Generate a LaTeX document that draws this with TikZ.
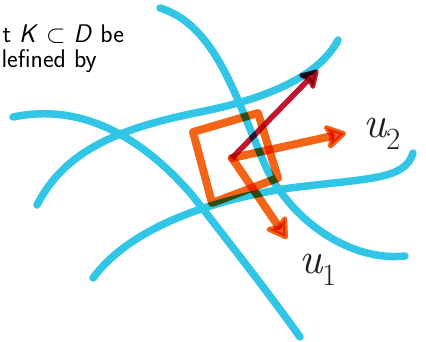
\documentclass[tikz,border=0pt]{standalone}
\usetikzlibrary{arrows.meta}
\definecolor{hlcyan}{RGB}{50,198,230}
\definecolor{hlorange}{RGB}{244,100,22}
\definecolor{hlred}{RGB}{192,22,46}
\definecolor{pen}{RGB}{30,30,30}
\begin{document}
\begin{tikzpicture}[x=1pt, y=-1pt,
    curve/.style={hlcyan, line width=7.5pt, line cap=round},
    marker/.style={hlorange, line width=8pt, line cap=round, line join=round},
    vec/.style={line width=8pt, -{Stealth[length=25pt, width=30pt, inset=6pt, round]}},
    hand/.style={pen, font=\fontsize{44}{44}\selectfont\itshape}]
    \useasboundingbox (0,0) rectangle (426,342);
    \fill[white] (0,0) rectangle (426,342);

    % text of the page, cut at the left
    \node[anchor=base west, font=\sffamily\fontsize{25.5}{28}\selectfont] (lineone) at (-1,43) {t \textsl{K} $\subset$ \textsl{D} be};
    \node[anchor=base west, font=\sffamily\fontsize{25.5}{28}\selectfont] (linetwo) at (-2,68) {lefined by};

    % the coordinate curves
    \draw[curve] (160,8) .. controls (215,25) and (235,95) .. (265,165)
        .. controls (290,220) and (350,262) .. (405,256);
    \draw[curve] (13,117) .. controls (80,103) and (140,135) .. (192,195)
        .. controls (235,250) and (270,295) .. (300,337);
    \draw[curve] (37,205) .. controls (65,150) and (120,128) .. (200,112)
        .. controls (270,98) and (320,75) .. (338,40);
    \draw[curve] (93,278) .. controls (130,228) and (210,200) .. (290,188)
        .. controls (370,178) and (405,180) .. (413,153);

    % the patch and its vectors
    \coordinate (o) at (232,158);
    \coordinate (vred) at (318,70);
    \coordinate (vtwo) at (346,133);
    \coordinate (vone) at (287,239);
    \begin{scope}[blend mode=multiply]
        \draw[marker] (193,132) -- (258,113) -- (278,178) -- (212,203) -- cycle;
        \draw[marker, vec] (o) -- (vtwo);
        \draw[marker, vec] (o) -- (vone);
        \draw[hlred, line width=5.5pt, -{Stealth[length=21pt, width=25pt, inset=4pt, round]}] (o) -- (vred);
    \end{scope}

    \node[hand] (utwo) at (382,134) {u\textsubscript{\upshape 2}};
    \node[hand] (uone) at (318,270) {u\textsubscript{\upshape 1}};
\end{tikzpicture}
\end{document}
